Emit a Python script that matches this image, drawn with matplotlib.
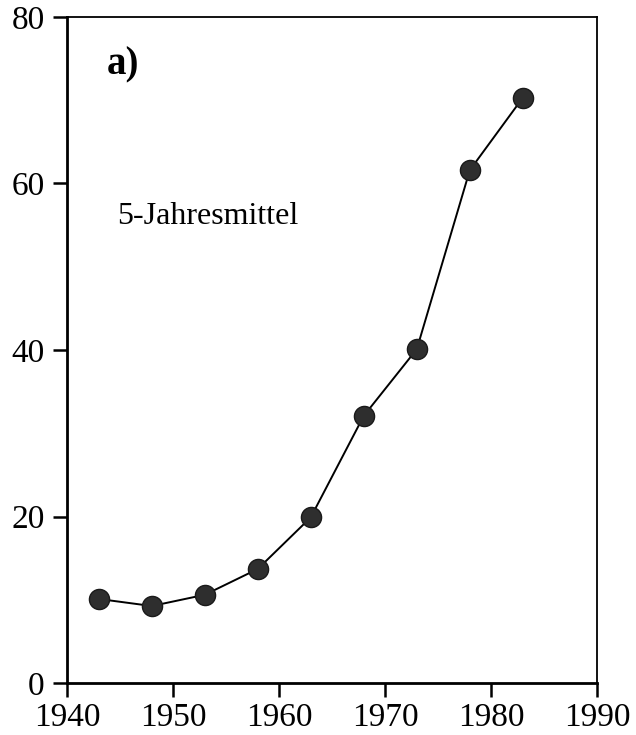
import matplotlib
matplotlib.use("Agg")
import matplotlib.pyplot as plt

years = [1943, 1948, 1953, 1958, 1963, 1968, 1973, 1978, 1983]
values = [10.1, 9.25, 10.6, 13.7, 19.9, 32.1, 40.1, 61.6, 70.3]
xticks = [1940, 1950, 1960, 1970, 1980, 1990]
yticks = [0, 20, 40, 60, 80]

plt.rcParams['font.family'] = ['Liberation Serif', 'DejaVu Serif']

fig = plt.figure(figsize=(6.36, 7.35), dpi=100)
ax = fig.add_axes([0.1053, 0.0707, 0.8334, 0.9062])

ax.plot(years, values, color='black', linewidth=1.4, marker='o',
        markersize=14.5, markerfacecolor='#2e2e2e', markeredgecolor='#1a1a1a',
        markeredgewidth=1.0)

ax.set_xlim(1940, 1990)
ax.set_ylim(0, 80)
ax.set_xticks(xticks)
ax.set_yticks(yticks)
ax.tick_params(axis='x', direction='out', length=10, width=1.8, labelsize=24, pad=4)
ax.tick_params(axis='y', direction='out', length=10, width=1.8, labelsize=24, pad=6)

for s in ['left', 'bottom']:
    ax.spines[s].set_linewidth(2.0)
for s in ['top', 'right']:
    ax.spines[s].set_linewidth(1.3)

ax.text(0.0755, 0.914, 'a)', transform=ax.transAxes, fontsize=28,
        fontweight='bold', ha='left', va='baseline')
ax.text(0.0943, 0.689, '5-Jahresmittel', transform=ax.transAxes, fontsize=23,
        ha='left', va='baseline')

fig.savefig('out.png', dpi=100)
